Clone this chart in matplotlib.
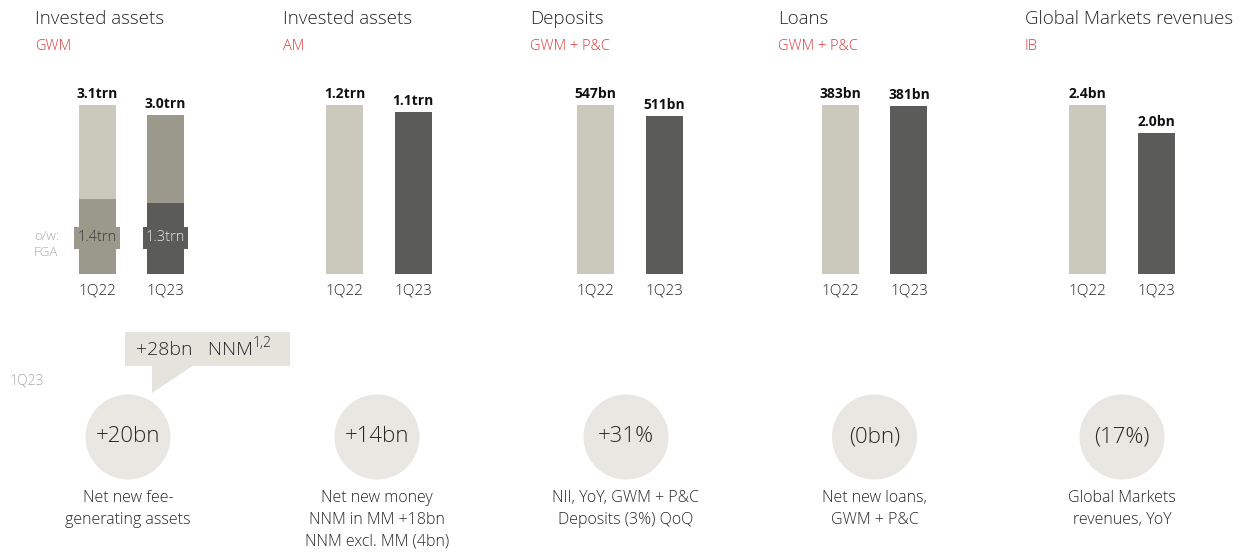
import matplotlib
matplotlib.use("Agg")
import matplotlib.pyplot as plt
from matplotlib.patches import Circle, Rectangle, Polygon

plt.rcParams['font.family'] = ['Open Sans', 'DejaVu Sans']

# ---------------- data ----------------
periods = ["1Q22", "1Q23"]
titles = ["Invested assets", "Invested assets", "Deposits", "Loans", "Global Markets revenues"]
subtitles = ["GWM", "AM", "GWM + P&C", "GWM + P&C", "IB"]

ia_gwm = [3.10, 2.92]          # trn
fga_gwm = [1.37, 1.31]         # trn, of which FGA
ia_am = [1.20, 1.15]           # trn
deposits = [547, 511]          # bn
loans = [383, 381]             # bn
gm_revenues = [2.4, 2.0]       # bn

panel_values = [ia_gwm, ia_am, deposits, loans, gm_revenues]
value_labels = [["3.1trn", "3.0trn"], ["1.2trn", "1.1trn"], ["547bn", "511bn"],
                ["383bn", "381bn"], ["2.4bn", "2.0bn"]]
fga_labels = ["1.4trn", "1.3trn"]

kpi_values = ["+20bn", "+14bn", "+31%", "(0bn)", "(17%)"]
kpi_desc = [["Net new fee-", "generating assets"],
            ["Net new money", "NNM in MM +18bn", "NNM excl. MM (4bn)"],
            ["NII, YoY, GWM + P&C", "Deposits (3%) QoQ"],
            ["Net new loans,", "GWM + P&C"],
            ["Global Markets", "revenues, YoY"]]
callout_main = "+28bn   NNM"
callout_sup = "1,2"

# ---------------- style ----------------
W, H = 1256, 554
C_LIGHT = "#cbc9bb"
C_MID = "#9a998c"
C_DARK = "#5b5b59"
C_RED = "#dc3a3c"
C_TEXT = "#262626"
C_GRAY = "#a6a6a6"
C_CIRCLE = "#e8e7e1"
LW = "light"

fig = plt.figure(figsize=(W / 100, H / 100), dpi=100)
fig.patch.set_facecolor("white")

# overlay axes in pixel coordinates
ov = fig.add_axes([0, 0, 1, 1])
ov.set_xlim(0, W)
ov.set_ylim(H, 0)
ov.axis("off")
ov.set_zorder(0)

title_x = [35, 283, 530, 778, 1025]
bar_c1 = [97, 344.5, 595.5, 840.5, 1087.5]
spacing = 68.5
bar_w_px = 37
bar_bottom_px = 274
bar_top_px = 105
circ_x = [128, 377, 626, 874.5, 1122]
circ_y = 437
circ_r = 42.5

for i in range(5):
    ov.text(title_x[i], 19, titles[i], fontsize=13.5, color=C_TEXT, va="center", ha="left",
            fontweight=LW)
    ov.text(title_x[i], 46, subtitles[i], fontsize=10.5, color=C_RED, va="center", ha="left",
            fontweight=LW)

    left = bar_c1[i] - spacing / 2
    ax = fig.add_axes([left / W, 1 - bar_bottom_px / H, 2 * spacing / W,
                       (bar_bottom_px - bar_top_px) / H])
    ax.set_zorder(1)
    ax.patch.set_alpha(0)
    vals = panel_values[i]
    ax.set_xlim(-0.5, 1.5)
    ax.set_ylim(0, vals[0])
    bw = bar_w_px / spacing
    cols = [C_LIGHT, C_MID] if i == 0 else [C_LIGHT, C_DARK]
    ax.bar([0, 1], vals, width=bw, color=cols, linewidth=0)
    if i == 0:
        ax.bar([0, 1], fga_gwm, width=bw, color=[C_MID, C_DARK], linewidth=0)
        for j in range(2):
            ax.text(j, vals[0] * (274 - 238) / 169, fga_labels[j], ha="center", va="center",
                    fontsize=10.5, color="#3a3a3a" if j == 0 else "#e6e6e6", fontweight=LW,
                    bbox=dict(boxstyle="square,pad=0.22", fc=[C_MID, C_DARK][j], ec="none"))
    for j in range(2):
        ax.annotate(value_labels[i][j], xy=(j, vals[j]), xytext=(0, 3),
                    textcoords="offset points", ha="center", va="bottom",
                    fontsize=10, fontweight="bold", color="#111111", annotation_clip=False)
    ax.set_xticks([0, 1])
    ax.set_xticklabels(periods, fontsize=11, color=C_TEXT, fontweight=LW)
    ax.tick_params(axis="x", length=0, pad=7)
    ax.set_yticks([])
    for s in ax.spines.values():
        s.set_visible(False)

    # KPI circle
    ov.add_patch(Circle((circ_x[i], circ_y), circ_r, color=C_CIRCLE, ec="none"))
    ov.text(circ_x[i], circ_y, kpi_values[i], fontsize=16, color=C_TEXT,
            ha="center", va="center", fontweight=LW)
    for k, line in enumerate(kpi_desc[i]):
        ov.text(circ_x[i], 498 + 21.5 * k, line, fontsize=11.5, color=C_TEXT,
                ha="center", va="center", fontweight=LW)

# o/w FGA label
ov.text(34, 236, "o/w:", fontsize=9.5, color=C_GRAY, va="center", ha="left", fontweight=LW)
ov.text(34, 252, "FGA", fontsize=9.5, color=C_GRAY, va="center", ha="left", fontweight=LW)

# 1Q23 label
ov.text(10, 381, "1Q23", fontsize=10, color=C_GRAY, va="center", ha="left", fontweight=LW)

# callout
ov.add_patch(Rectangle((125, 332), 165, 34, color="#e4e3dc", ec="none"))
ov.add_patch(Polygon([(152, 365), (194, 365), (152, 393)], closed=True, color="#e4e3dc", ec="none"))
t = ov.text(136, 350, callout_main, fontsize=14, color=C_TEXT, ha="left", va="center",
            fontweight=LW)
ov.annotate(callout_sup, xy=(1.0, 0.45), xycoords=t, fontsize=10, color=C_TEXT,
            ha="left", va="bottom", fontweight=LW)

fig.savefig("out.png", dpi=100)
